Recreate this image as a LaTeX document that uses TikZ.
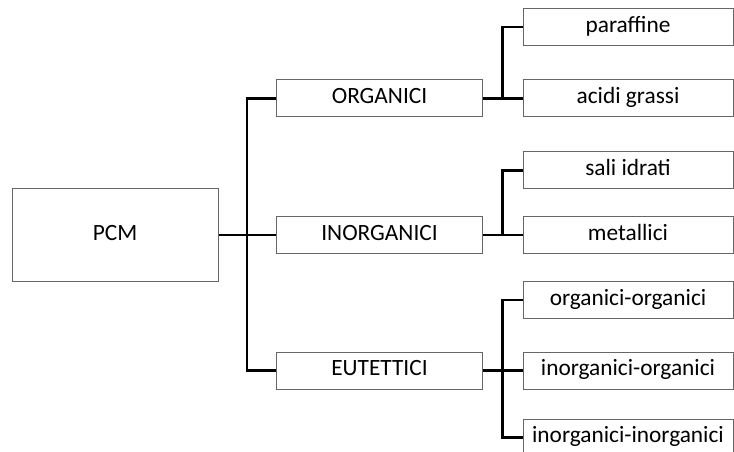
\documentclass[tikz,border=0pt]{standalone}
\usepackage{fontspec}
\setmainfont{Carlito}
\tikzset{
    catbox/.style={draw=black!60, line width=0.75pt, fill=white, minimum width=155pt, minimum height=27.75pt, inner sep=0pt, text height=11.5pt, text depth=3.5pt, font=\fontsize{17.5}{20}\selectfont},
    subbox/.style={catbox, minimum width=157.5pt},
    link/.style={line width=1.6pt, black}
}
\begin{document}
\begin{tikzpicture}[x=0.75pt, y=-0.75pt]
        % Fix the page size
        \useasboundingbox (0,0) rectangle (734,452);
        % Draw the root box
        \node[catbox, minimum width=154.5pt, minimum height=69pt] (pcm) at (115,235) {PCM};
        % Draw the three classes
        \node[catbox] (org) at (379.5,98.5) {ORGANICI};
        \node[catbox] (inorg) at (379.5,235) {INORGANICI};
        \node[catbox] (eut) at (379.5,370.5) {EUTETTICI};
        % Draw the subclasses
        \node[subbox] (paraf) at (628,27) {paraffine};
        \node[subbox] (acidi) at (628,98.5) {acidi grassi};
        \node[subbox] (sali) at (628,170.5) {sali idrati};
        \node[subbox] (metal) at (628,235) {metallici};
        \node[subbox] (oo) at (628,300) {organici-organici};
        \node[subbox] (io) at (628,370.5) {inorganici-organici};
        \node[subbox] (ii) at (628,437.5) {inorganici-inorganici};
        % Draw the connectors
        \draw[link] (pcm.east) -- (inorg.west);
        \draw[link] (org.west) -- ++(-29,0) |- (eut.west);
        \draw[link] (org.east) -- (acidi.west);
        \draw[link] (paraf.west) -- ++(-20,0) |- (acidi.west);
        \draw[link] (inorg.east) -- (metal.west);
        \draw[link] (sali.west) -- ++(-20,0) |- (metal.west);
        \draw[link] (eut.east) -- (io.west);
        \draw[link] (oo.west) -- ++(-20,0) |- (ii.west);
    \end{tikzpicture}
\end{document}
